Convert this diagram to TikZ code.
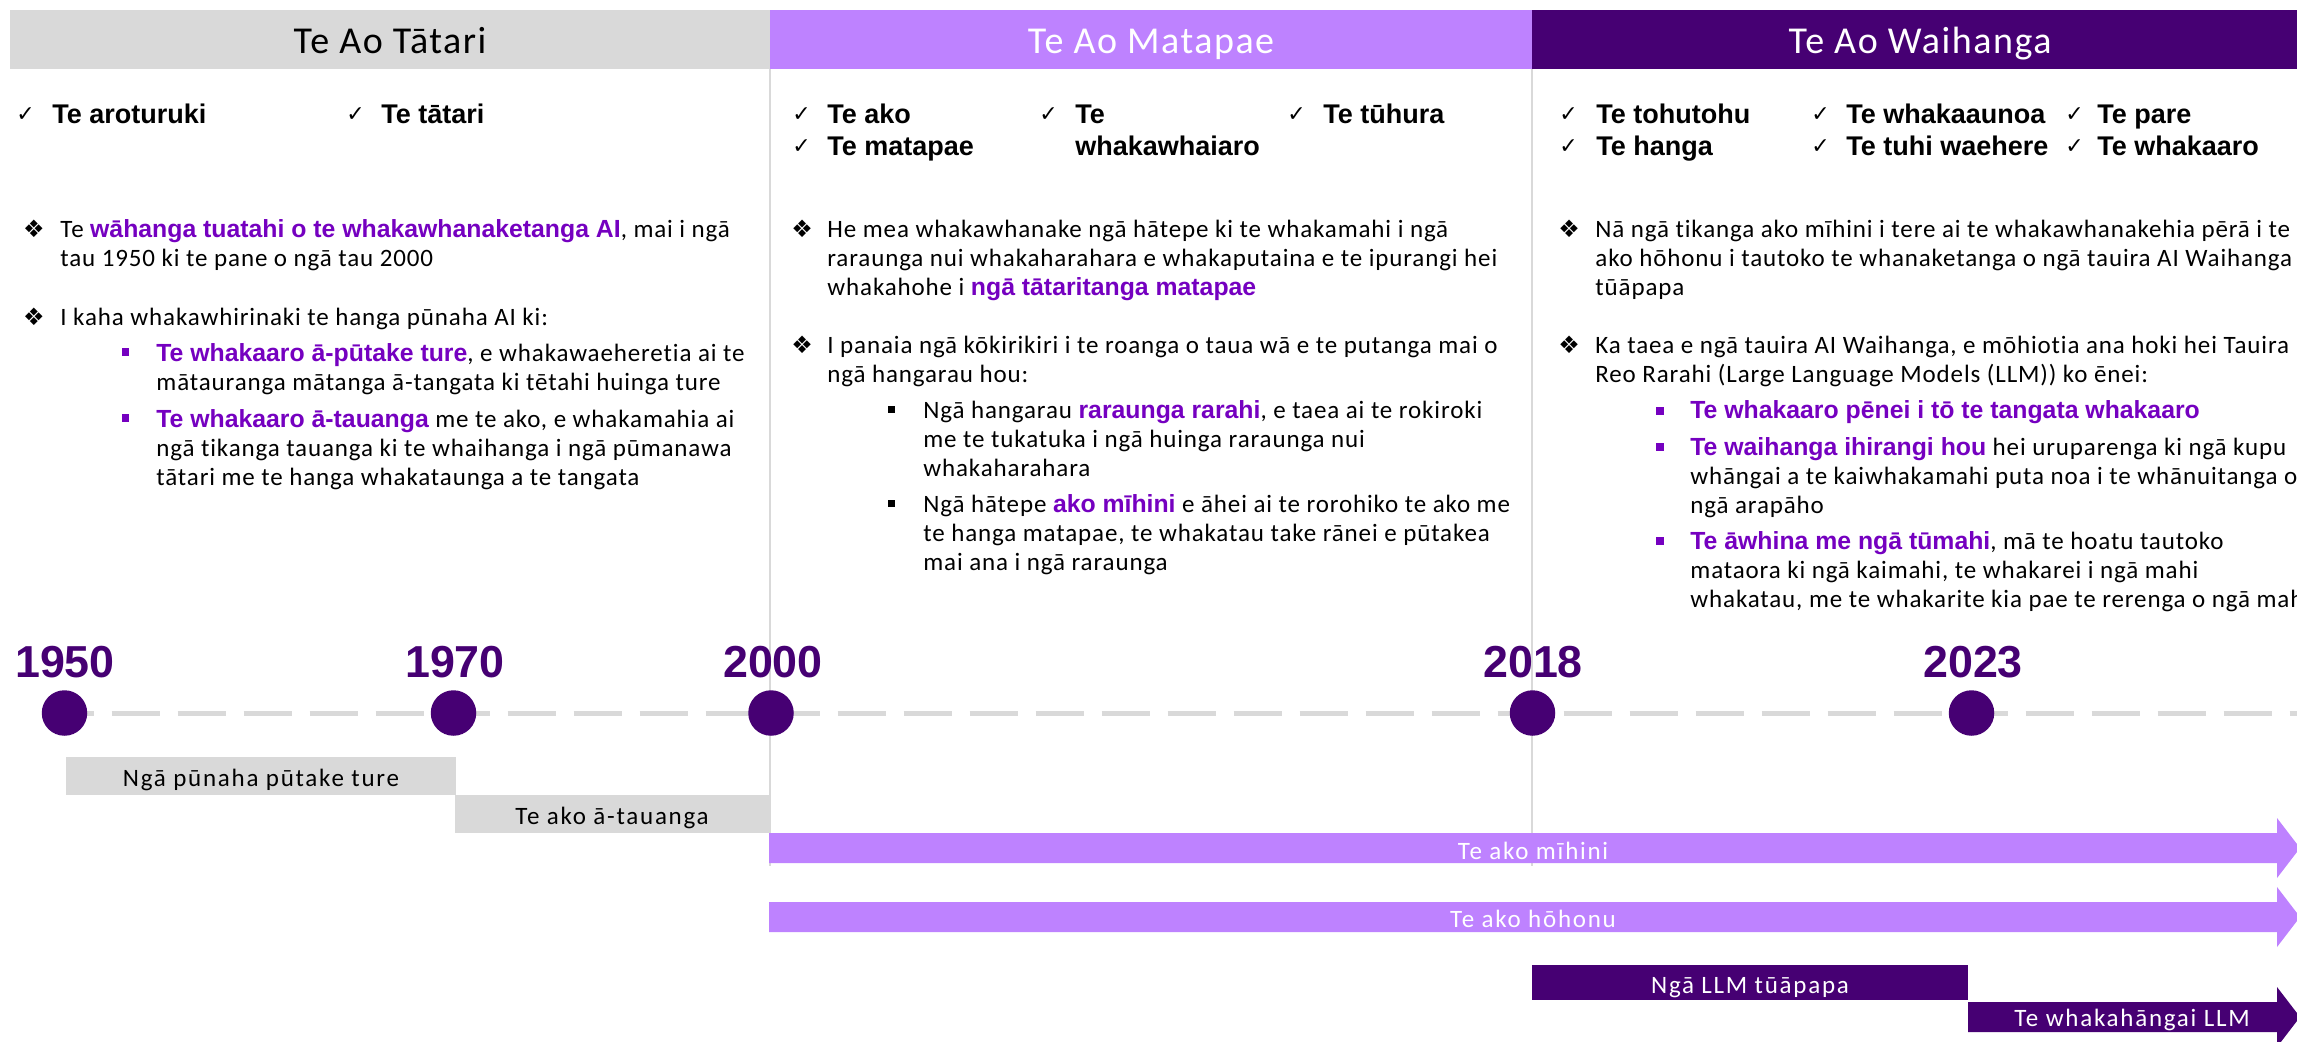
\documentclass[tikz,border=0pt]{standalone}
\usepackage{fontspec}
\setmainfont{Carlito}
\newfontfamily\bodyf{Carlito}[LetterSpace=3.5,Ligatures=NoCommon]
\newfontfamily\barf{Carlito}[LetterSpace=7,Ligatures=NoCommon]
\newfontfamily\headf{Carlito}[LetterSpace=4,Ligatures=NoCommon]
\newfontfamily\boldf{Liberation Sans}
\newfontfamily\symf{DejaVu Sans}
\definecolor{hgray}{HTML}{D9D9D9}
\definecolor{lpurple}{HTML}{BE82FF}
\definecolor{dpurple}{HTML}{460073}
\definecolor{hlpurple}{HTML}{7500C0}
\newcommand{\hl}[1]{{\boldf\bfseries\fontsize{12.4}{14.5}\selectfont\color{hlpurple}#1}}
\begin{document}
\begin{tikzpicture}[x=0.5pt,y=-0.5pt,
  hdrbox/.style={draw=none,inner sep=0,minimum height=29.5pt,anchor=north west},
  htitle/.style={anchor=base,inner sep=0,font=\headf\fontsize{19}{22}\selectfont},
  sepline/.style={draw=hgray,line width=0.75pt},
  tline/.style={draw=hgray,line width=2.5pt,dash pattern=on 24pt off 9pt},
  dot/.style={circle,fill=dpurple,minimum size=22.75pt,inner sep=0},
  year/.style={anchor=base,inner sep=0,text=dpurple,font=\boldf\bfseries\fontsize{22.4}{26}\selectfont},
  barbox/.style={draw=none,inner sep=0,anchor=north west},
  bartext/.style={anchor=base,inner sep=0,font=\barf\fontsize{12.5}{15}\selectfont},
  chk/.style={anchor=base west,inner sep=0,font=\symf\fontsize{11}{13}\selectfont},
  item/.style={anchor=base west,inner sep=0,align=left,font=\boldf\bfseries\fontsize{13.5}{16}\selectfont},
  dia/.style={anchor=center,inner sep=0,font=\symf\fontsize{12}{14}\selectfont},
  sq/.style={rectangle,inner sep=0,minimum size=3.6pt},
  para/.style={anchor=base west,inner sep=0,align=left,font=\bodyf\fontsize{12.5}{14.5}\selectfont}
]
\path[use as bounding box] (0,0) rectangle (2297,1041);
\clip (0,0) rectangle (2297,1041);
\fill[white] (0,0) rectangle (2297,1041);

% headers
\node[hdrbox,fill=hgray,minimum width=380pt] (h1) at (10,10) {};
\node[hdrbox,fill=lpurple,minimum width=381pt] (h2) at (770,10) {};
\node[hdrbox,fill=dpurple,minimum width=383pt] (h3) at (1532,10) {};
\node[htitle,text=black] (t1) at (390,53) {Te Ao Tātari};
\node[htitle,text=white] (t2) at (1151,53) {Te Ao Matapae};
\node[htitle,text=white] (t3) at (1920,53) {Te Ao Waihanga};

% separators
\coordinate (s1a) at (770,69); \coordinate (s1b) at (770,866);
\coordinate (s2a) at (1532,69); \coordinate (s2b) at (1532,866);
\draw[sepline] (s1a) -- (s1b);
\draw[sepline] (s2a) -- (s2b);

% panel 1 checks
\node[chk] (c11) at (16,121) {✓};
\node[item] (i11) at (52,123) {Te aroturuki};
\node[chk] (c12) at (346,121) {✓};
\node[item] (i12) at (381,123) {Te tātari};

% panel 1 bullets (anchor = baseline of last line)
\node[dia] (p1d1) at (34,229) {❖};
\node[para] (p1t1) at (60,266) {Te \hl{wāhanga tuatahi o te whakawhanaketanga AI}, mai i ngā\\tau 1950 ki te pane o ngā tau 2000};
\node[dia] (p1d2) at (34,317) {❖};
\node[para] (p1t2) at (60,325) {I kaha whakawhirinaki te hanga pūnaha AI ki:};
\node[sq,fill=hlpurple] (p1s1) at (125.5,352) {};
\node[para] (p1u1) at (156,390) {\hl{Te whakaaro ā-pūtake ture}, e whakawaeheretia ai te\\mātauranga mātanga ā-tangata ki tētahi huinga ture};
\node[sq,fill=hlpurple] (p1s2) at (125.5,418) {};
\node[para] (p1u2) at (156,485) {\hl{Te whakaaro ā-tauanga} me te ako, e whakamahia ai\\ngā tikanga tauanga ki te whaihanga i ngā pūmanawa\\tātari me te hanga whakataunga a te tangata};

% panel 2 checks
\node[chk] (c21) at (792,121) {✓};
\node[item] (i21) at (827,123) {Te ako};
\node[chk] (c22) at (792,153) {✓};
\node[item] (i22) at (827,155) {Te matapae};
\node[chk] (c23) at (1039,121) {✓};
\node[item] (i23) at (1075,155) {Te\\whakawhaiaro};
\node[chk] (c24) at (1287,121) {✓};
\node[item] (i24) at (1323,123) {Te tūhura};

% panel 2 bullets
\node[dia] (p2d1) at (802,229) {❖};
\node[para] (p2t1) at (827,295) {He mea whakawhanake ngā hātepe ki te whakamahi i ngā\\raraunga nui whakaharahara e whakaputaina e te ipurangi hei\\whakahohe i \hl{ngā tātaritanga matapae}};
\node[dia] (p2d2) at (802,345) {❖};
\node[para] (p2t2) at (827,382) {I panaia ngā kōkirikiri i te roanga o taua wā e te putanga mai o\\ngā hangarau hou:};
\node[sq,fill=black] (p2s1) at (891.5,409.5) {};
\node[para] (p2u1) at (923,476) {Ngā hangarau \hl{raraunga rarahi}, e taea ai te rokiroki\\me te tukatuka i ngā huinga raraunga nui\\whakaharahara};
\node[sq,fill=black] (p2s2) at (891.5,503.5) {};
\node[para] (p2u2) at (923,570) {Ngā hātepe \hl{ako mīhini} e āhei ai te rorohiko te ako me\\te hanga matapae, te whakatau take rānei e pūtakea\\mai ana i ngā raraunga};

% panel 3 checks
\node[chk] (c31) at (1559,121) {✓};
\node[item] (i31) at (1596,123) {Te tohutohu};
\node[chk] (c32) at (1559,153) {✓};
\node[item] (i32) at (1596,155) {Te hanga};
\node[chk] (c33) at (1811,121) {✓};
\node[item] (i33) at (1846,123) {Te whakaaunoa};
\node[chk] (c34) at (1811,153) {✓};
\node[item] (i34) at (1846,155) {Te tuhi waehere};
\node[chk] (c35) at (2065,121) {✓};
\node[item] (i35) at (2097,123) {Te pare};
\node[chk] (c36) at (2065,153) {✓};
\node[item] (i36) at (2097,155) {Te whakaaro};

% panel 3 bullets
\node[dia] (p3d1) at (1569,229) {❖};
\node[para] (p3t1) at (1595,295) {Nā ngā tikanga ako mīhini i tere ai te whakawhanakehia pērā i te\\ako hōhonu i tautoko te whanaketanga o ngā tauira AI Waihanga\\tūāpapa};
\node[dia] (p3d2) at (1569,345) {❖};
\node[para] (p3t2) at (1595,382) {Ka taea e ngā tauira AI Waihanga, e mōhiotia ana hoki hei Tauira\\Reo Rarahi (Large Language Models (LLM)) ko ēnei:};
\node[sq,fill=hlpurple] (p3s1) at (1660,411) {};
\node[para] (p3u1) at (1690,418) {\hl{Te whakaaro pēnei i tō te tangata whakaaro}};
\node[sq,fill=hlpurple] (p3s2) at (1660,447) {};
\node[para] (p3u2) at (1690,513) {\hl{Te waihanga ihirangi hou} hei uruparenga ki ngā kupu\\whāngai a te kaiwhakamahi puta noa i te whānuitanga o\\ngā arapāho};
\node[sq,fill=hlpurple] (p3s3) at (1660,541) {};
\node[para] (p3u3) at (1690,607) {\hl{Te āwhina me ngā tūmahi}, mā te hoatu tautoko\\mataora ki ngā kaimahi, te whakarei i ngā mahi\\whakatau, me te whakarite kia pae te rerenga o ngā mahi};

% timeline
\coordinate (tl0) at (45.5,713);
\coordinate (tl1) at (2297,713);
\draw[tline] (tl0) -- (tl1);
\node[dot] (d1950) at (64.5,713) {};
\node[dot] (d1970) at (453.5,713) {};
\node[dot] (d2000) at (771,713) {};
\node[dot] (d2018) at (1532.5,713) {};
\node[dot] (d2023) at (1971.5,713) {};
\node[year] (y1950) at (65,677) {1950};
\node[year] (y1970) at (455,677) {1970};
\node[year] (y2000) at (773,677) {2000};
\node[year] (y2018) at (1533,677) {2018};
\node[year] (y2023) at (1973,677) {2023};

% bars
\node[barbox,fill=hgray,minimum width=195pt,minimum height=19pt] (b1) at (66,757) {};
\node[bartext,text=black] (b1t) at (261,786) {Ngā pūnaha pūtake ture};
\node[barbox,fill=hgray,minimum width=157pt,minimum height=19pt] (b2) at (455,795) {};
\node[bartext,text=black] (b2t) at (612,824) {Te ako ā-tauanga};
\fill[lpurple] (769,833) -- (2277,833) -- (2277,818) -- (2300,848) -- (2277,878) -- (2277,863) -- (769,863) -- cycle;
\node[bartext,text=white] (a1t) at (1533,859) {Te ako mīhini};
\fill[lpurple] (769,902) -- (2277,902) -- (2277,887) -- (2300,917) -- (2277,947) -- (2277,932) -- (769,932) -- cycle;
\node[bartext,text=white] (a2t) at (1533,927) {Te ako hōhonu};
\node[barbox,fill=dpurple,minimum width=218pt,minimum height=17.5pt] (b3) at (1532,965) {};
\node[bartext,text=white] (b3t) at (1750,993) {Ngā LLM tūāpapa};
\fill[dpurple] (1968,1002) -- (2277,1002) -- (2277,987) -- (2300,1017) -- (2277,1047) -- (2277,1032) -- (1968,1032) -- cycle;
\node[bartext,text=white] (a3t) at (2132,1026) {Te whakahāngai LLM};
\end{tikzpicture}
\end{document}
